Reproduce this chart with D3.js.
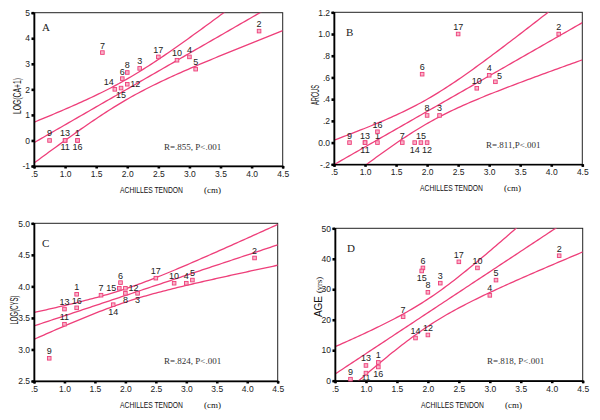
<!DOCTYPE html>
<html><head><meta charset="utf-8">
<script src="https://cdn.jsdelivr.net/npm/d3@7"></script>
<style>body{margin:0;background:#fff}</style>
</head><body>
<svg id="c" width="600" height="420"></svg>
<script>
// ---- data (17 patients) ----
const patientIds = ["1","2","3","4","5","6","7","8","9","10","11","12","13","14","15","16","17"];
const tendonCm = [1.2, 4.12, 2.2, 3.0, 3.1, 1.92, 1.6, 2.0, 0.75, 2.8, 1.0, 2.0, 1.0, 1.8, 1.9, 1.2, 2.5];
const logCA    = [0, 4.28, 2.82, 3.27, 2.79, 2.42, 3.44, 2.66, 0, 3.14, 0, 2.2, 0, 2.0, 2.05, 0, 3.27];
const arcus    = [0, 1.0, 0.25, 0.62, 0.56, 0.63, 0, 0.25, 0, 0.5, 0, 0, 0, 0, 0, 0.1, 1.0];
const logCys   = [3.875, 4.45, 3.89, 4.05, 4.10, 4.06, 3.86, 3.89, 2.86, 4.05, 3.40, 3.97, 3.64, 3.71, 3.97, 3.66, 4.13];
const ageYrs   = [6, 41, 32, 28, 33, 37, 21, 29, 0.5, 37, 2.5, 15, 5, 14, 36, 4.5, 39];

const xTickValues = [0.5, 1.0, 1.5, 2.0, 2.5, 3.0, 3.5, 4.0, 4.5];
const xTickLabels = [".5", "1.0", "1.5", "2.0", "2.5", "3.0", "3.5", "4.0", "4.5"];
const yTicksA = [-1, 0, 1, 2, 3, 4, 5];
const yLabelsA = ["-1", "0", "1", "2", "3", "4", "5"];
const yTicksB = [-0.2, 0, 0.2, 0.4, 0.6, 0.8, 1.0, 1.2];
const yLabelsB = ["-.2", "0.0", ".2", ".4", ".6", ".8", "1.0", "1.2"];
const yTicksC = [2.5, 3.0, 3.5, 4.0, 4.5, 5.0];
const yLabelsC = ["2.5", "3.0", "3.5", "4.0", "4.5", "5.0"];
const yTicksD = [0, 10, 20, 30, 40, 50];
const yLabelsD = ["0", "10", "20", "30", "40", "50"];
const statTexts = ["R=.855, P<.001", "R=.811,P<.001", "R=.824, P<.001", "R=.818, P<.001"];
const panelLetters = ["A", "B", "C", "D"];
const T_95_DF15 = 2.131;

// ---- layout / style ----
const PINK = "#ee3f7a";
const panels = [
  {y: logCA,  ticks: yTicksA, labels: yLabelsA, title: ["LOG(CA+1)"], titleLen: 36,
   box: {l: 34, r: 282.7, t: 12.7, b: 166}, titleX: 17, titleY: 96, letter: [8, 18],
   lab: {"11":"b","16":"b","15":"b","12":"r","14":"al"}},
  {y: arcus,  ticks: yTicksB, labels: yLabelsB, title: ["ARCUS"], titleLen: 20,
   box: {l: 334, r: 582.3, t: 12.3, b: 164.3}, titleX: 315, titleY: 95, letter: [12, 24],
   lab: {"11":"b","14":"b","12":"b","5":"ar"}},
  {y: logCys, ticks: yTicksC, labels: yLabelsC, title: ["LOG(CYS)"], titleLen: 29,
   box: {l: 34, r: 277.7, t: 223.3, b: 381}, titleX: 14, titleY: 310, letter: [8, 23.5],
   lab: {"8":"b","3":"b","14":"b","15":"l","12":"r"}},
  {y: ageYrs, ticks: yTicksD, labels: yLabelsD, title: ["AGE", "(yrs)"], titleLen: 0,
   box: {l: 335, r: 582.7, t: 228.3, b: 380.7}, titleX: 318, titleY: 297, letter: [12, 23.5],
   lab: {"11":"bs","16":"b","15":"b"}}
];

function fit(xs, ys) {
  const n = xs.length, mx = d3.mean(xs), my = d3.mean(ys);
  let sxx = 0, sxy = 0, syy = 0;
  xs.forEach((x, i) => { sxx += (x-mx)**2; sxy += (x-mx)*(ys[i]-my); syy += (ys[i]-my)**2; });
  const b = sxy / sxx, a = my - b*mx;
  const s = Math.sqrt((syy - b*sxy) / (n - 2));
  return x => {
    const yh = a + b*x;
    const hw = T_95_DF15 * s * Math.sqrt(1/n + (x-mx)**2 / sxx);
    return [yh - hw, yh, yh + hw];
  };
}

const svg = d3.select("#c");
const SANS = "'Liberation Sans Narrow','Arial Narrow','Liberation Sans',Arial,sans-serif";
const SERIF = "'Liberation Serif','Times New Roman',serif";

panels.forEach((p, pi) => {
  const B = p.box;
  const x = d3.scaleLinear().domain([0.5, 4.5]).range([B.l, B.r]);
  const y = d3.scaleLinear().domain([p.ticks[0], p.ticks[p.ticks.length-1]]).range([B.b, B.t]);
  const g = svg.append("g");

  // frame
  g.append("rect").attr("x", B.l).attr("y", B.t).attr("width", B.r-B.l).attr("height", B.b-B.t)
    .attr("fill", "none").attr("stroke", "#222").attr("stroke-width", 1);

  // clip
  const cid = "clip" + pi;
  svg.append("clipPath").attr("id", cid).append("rect")
    .attr("x", B.l).attr("y", B.t).attr("width", B.r-B.l).attr("height", B.b-B.t);

  // regression line + 95% CI
  const f = fit(tendonCm, p.y);
  const xs = d3.range(0, 101).map(i => 0.5 + i*0.04);
  [0, 1, 2].forEach(k => {
    g.append("path").attr("clip-path", `url(#${cid})`)
      .attr("d", d3.line().x(v => x(v)).y(v => y(f(v)[k]))(xs))
      .attr("fill", "none").attr("stroke", PINK).attr("stroke-width", 1.3);
  });

  // axes
  const ax = g.append("g").attr("transform", `translate(0,${B.b})`)
    .call(d3.axisBottom(x).tickValues(xTickValues).tickFormat((d,i) => xTickLabels[i]).tickSize(2.5).tickPadding(2.5));
  const ay = g.append("g").attr("transform", `translate(${B.l},0)`)
    .call(d3.axisLeft(y).tickValues(p.ticks).tickFormat((d,i) => p.labels[i]).tickSize(2.5).tickPadding(1.5));
  [ax, ay].forEach(a => {
    a.select(".domain").attr("stroke", "#000").attr("stroke-width", 1.6);
    a.selectAll(".tick line").attr("stroke", "#000").attr("stroke-width", 2.6);
    a.selectAll(".tick text").attr("font-family", SANS).attr("font-size", 8.5).attr("fill", "#222");
  });

  // points
  const pts = g.append("g");
  p.y.forEach((v, i) => {
    const px = x(tendonCm[i]), py = y(v);
    pts.append("rect").attr("x", px-1.8).attr("y", py-1.8).attr("width", 3.6).attr("height", 3.6)
      .attr("fill", "#f7b3c8").attr("stroke", PINK).attr("stroke-width", 0.9);
    const id = patientIds[i];
    const dir = p.lab[id] || "a";
    let tx = px, ty = py - 4, anchor = "middle", fs = 9;
    if (dir === "b") { ty = py + 10; }
    if (dir === "bs") { ty = py + 6.5; fs = 8; }
    if (dir === "l") { tx = px - 3; ty = py + 3; anchor = "end"; }
    if (dir === "r") { tx = px + 3; ty = py + 3; anchor = "start"; }
    if (dir === "al") { tx = px - 1; anchor = "end"; }
    if (dir === "ar") { tx = px + 4; ty = py - 3; }
    pts.append("text").attr("x", tx).attr("y", ty).attr("text-anchor", anchor)
      .attr("font-family", SANS).attr("font-size", fs).attr("fill", "#222").text(id);
  });

  // panel letter
  g.append("text").attr("x", B.l + p.letter[0]).attr("y", B.t + p.letter[1])
    .attr("font-family", SERIF).attr("font-size", 11).attr("fill", "#222").text(panelLetters[pi]);

  // R text
  g.append("text").attr("x", B.l + (pi % 2 ? 152 : 130)).attr("y", pi < 2 ? B.b - 16 : B.b - 17)
    .attr("font-family", SERIF).attr("font-size", 9).attr("fill", "#333").text(statTexts[pi]);

  // x title
  g.append("text").attr("x", B.l + 86).attr("y", B.b + 27)
    .attr("font-family", SANS).attr("font-size", 9).attr("fill", "#111")
    .attr("textLength", 63).attr("lengthAdjust", "spacingAndGlyphs").text("ACHILLES TENDON");
  g.append("text").attr("x", B.l + 170).attr("y", B.b + 27)
    .attr("font-family", SERIF).attr("font-size", 9).attr("fill", "#111").text("(cm)");

  // y title
  const yt = g.append("text").attr("transform", `translate(${p.titleX + 3.5},${p.titleY}) rotate(-90)`)
    .attr("text-anchor", "middle").attr("fill", "#111");
  if (p.title.length === 1) {
    yt.attr("font-family", SANS).attr("font-size", 10.5)
      .attr("textLength", p.titleLen).attr("lengthAdjust", "spacingAndGlyphs").text(p.title[0]);
  } else {
    yt.append("tspan").attr("font-family", SANS).attr("font-size", 10).text(p.title[0]);
    yt.append("tspan").attr("font-family", SERIF).attr("font-size", 8.5).attr("dx", 3).text(p.title[1]);
  }
});
</script>
</body></html>
